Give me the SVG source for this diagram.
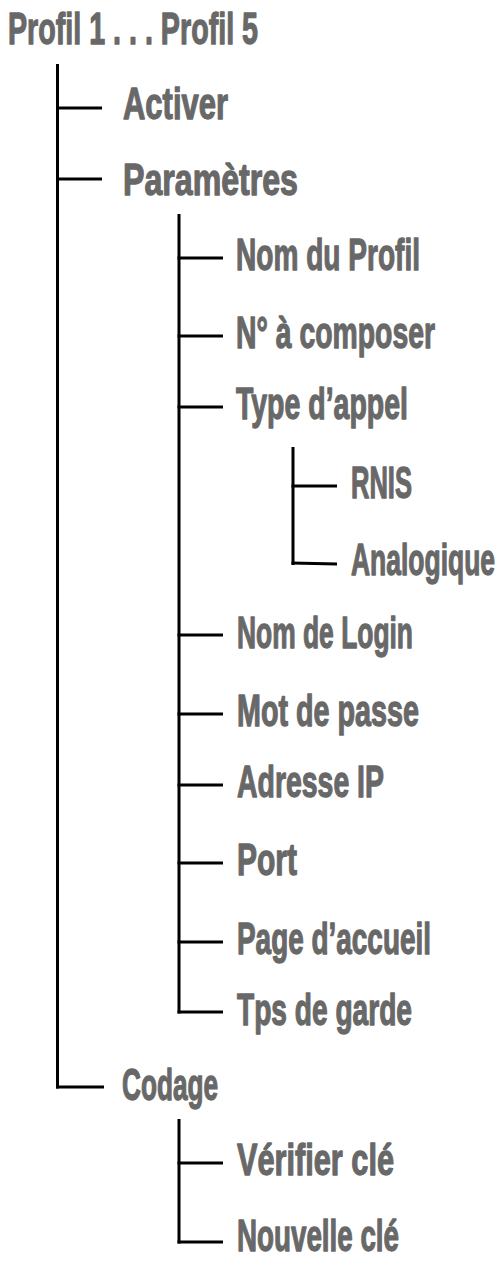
<svg xmlns="http://www.w3.org/2000/svg" width="501" height="1262" viewBox="0 0 501 1262">
<style>
text{font-family:"Liberation Sans",Arial,sans-serif;font-weight:bold;font-size:45px;fill:#686868;stroke:#686868;stroke-width:1.3;stroke-linejoin:round}
.c line{stroke:#000;stroke-width:3;fill:none}
</style>
<rect width="501" height="1262" fill="#fff"/>
<g class="c" id="connectors">
<line x1="57.5" y1="64" x2="57.5" y2="1088.5"/>
<line x1="56" y1="108" x2="102" y2="108"/>
<line x1="56" y1="179" x2="102" y2="179"/>
<line x1="56" y1="1087" x2="104" y2="1087"/>
<line x1="179" y1="214" x2="179" y2="1013.5"/>
<line x1="177.5" y1="258" x2="223" y2="258"/>
<line x1="177.5" y1="336" x2="223" y2="336"/>
<line x1="177.5" y1="407" x2="223" y2="407"/>
<line x1="177.5" y1="635" x2="223" y2="635"/>
<line x1="177.5" y1="714" x2="223" y2="714"/>
<line x1="177.5" y1="785" x2="223" y2="785"/>
<line x1="177.5" y1="863" x2="223" y2="863"/>
<line x1="177.5" y1="942" x2="223" y2="942"/>
<line x1="177.5" y1="1012" x2="223" y2="1012"/>
<line x1="293" y1="447" x2="293" y2="565"/>
<line x1="291.5" y1="486" x2="337" y2="486"/>
<line x1="291.5" y1="563" x2="337" y2="564"/>
<line x1="179" y1="1119" x2="179" y2="1243.5"/>
<line x1="177.5" y1="1163" x2="223" y2="1163"/>
<line x1="177.5" y1="1242" x2="223" y2="1242"/>
</g>
<g id="root"><text transform="scale(0.625,1)" x="12.8" y="44" textLength="400" lengthAdjust="spacingAndGlyphs">Profil 1 . . . Profil 5</text></g>
<g id="activer"><text transform="scale(0.625,1)" x="196.8" y="119" textLength="168" lengthAdjust="spacingAndGlyphs">Activer</text></g>
<g id="parametres"><text transform="scale(0.625,1)" x="196.8" y="195" textLength="280" lengthAdjust="spacingAndGlyphs">Paramètres</text></g>
<g id="nom-profil"><text transform="scale(0.625,1)" x="377.6" y="270" textLength="294.4" lengthAdjust="spacingAndGlyphs">Nom du Profil</text></g>
<g id="numero"><text transform="scale(0.625,1)" x="377.6" y="348" textLength="318.4" lengthAdjust="spacingAndGlyphs">N° à composer</text></g>
<g id="type-appel"><text transform="scale(0.625,1)" x="377.6" y="419" textLength="275.2" lengthAdjust="spacingAndGlyphs">Type d’appel</text></g>
<g id="rnis"><text transform="scale(0.625,1)" x="561.6" y="498" textLength="97.6" lengthAdjust="spacingAndGlyphs">RNIS</text></g>
<g id="analogique"><text transform="scale(0.58,1)" x="605.2" y="575" textLength="248.3" lengthAdjust="spacingAndGlyphs">Analogique</text></g>
<g id="nom-login"><text transform="scale(0.625,1)" x="379.2" y="648" textLength="281.6" lengthAdjust="spacingAndGlyphs">Nom de Login</text></g>
<g id="mot-passe"><text transform="scale(0.625,1)" x="379.2" y="726" textLength="291.2" lengthAdjust="spacingAndGlyphs">Mot de passe</text></g>
<g id="adresse-ip"><text transform="scale(0.625,1)" x="379.2" y="797" textLength="235.2" lengthAdjust="spacingAndGlyphs">Adresse IP</text></g>
<g id="port"><text transform="scale(0.625,1)" x="379.2" y="875" textLength="96" lengthAdjust="spacingAndGlyphs">Port</text></g>
<g id="page-accueil"><text transform="scale(0.625,1)" x="379.2" y="954" textLength="310.4" lengthAdjust="spacingAndGlyphs">Page d’accueil</text></g>
<g id="tps-garde"><text transform="scale(0.625,1)" x="379.2" y="1025" textLength="280" lengthAdjust="spacingAndGlyphs">Tps de garde</text></g>
<g id="codage"><text transform="scale(0.625,1)" x="195.2" y="1100" textLength="153.6" lengthAdjust="spacingAndGlyphs">Codage</text></g>
<g id="verifier-cle"><text transform="scale(0.625,1)" x="379.2" y="1175" textLength="251.2" lengthAdjust="spacingAndGlyphs">Vérifier clé</text></g>
<g id="nouvelle-cle"><text transform="scale(0.625,1)" x="379.2" y="1251" textLength="259.2" lengthAdjust="spacingAndGlyphs">Nouvelle clé</text></g>
</svg>
